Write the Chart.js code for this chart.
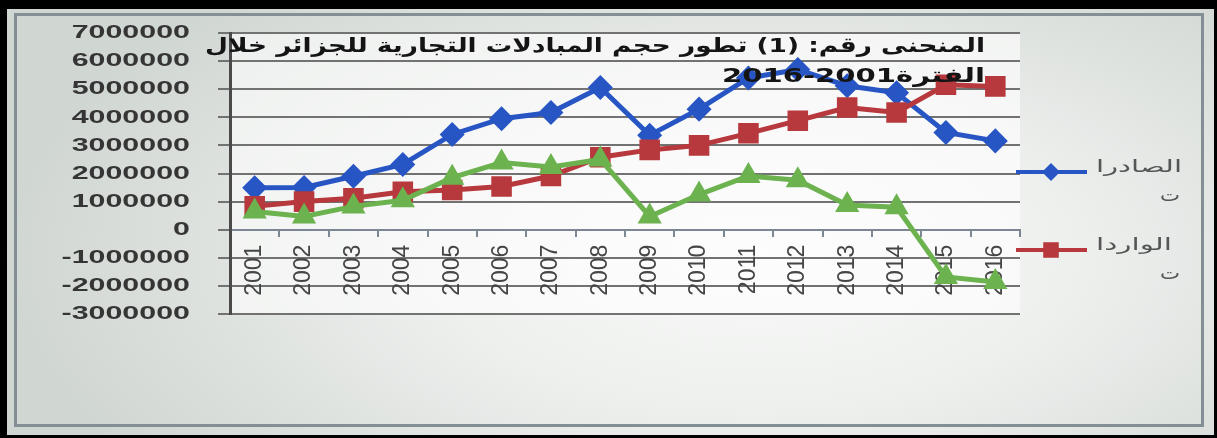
<!DOCTYPE html>
<html lang="ar">
<head>
<meta charset="utf-8">
<title>تطور حجم المبادلات التجارية للجزائر</title>
<script src="https://cdn.jsdelivr.net/npm/chart.js@4.4.1/dist/chart.umd.min.js"></script>
<style>
  html, body { margin: 0; padding: 0; background: #000; }
  body { width: 1217px; height: 438px; position: relative; overflow: hidden; }
  #panel {
    position: absolute; left: 7px; top: 9px; width: 1207px; height: 426px;
    background: radial-gradient(ellipse 62% 85% at 62% 58%, #f8f9f8 0%, #eef0ee 42%, #d0d6d2 100%);
  }
  #frame {
    position: absolute; left: 14px; top: 13px; width: 1190px; height: 414px;
    box-sizing: border-box; border: 3px solid #838e95;
  }
  canvas { position: absolute; left: 0; top: 0; }
</style>
</head>
<body>
<div id="panel"></div>
<div id="frame"></div>
<canvas id="tradeChart" width="1217" height="438"></canvas>
<script>
// values
const years = ['2001', '2002', '2003', '2004', '2005', '2006', '2007', '2008',
               '2009', '2010', '2011', '2012', '2013', '2014', '2015', '2016'];
const exportsVals = [1490000, 1500000, 1900000, 2320000, 3390000, 3950000, 4170000, 5060000,
                     3360000, 4290000, 5400000, 5700000, 5120000, 4870000, 3460000, 3160000];
const importsVals = [830000, 1000000, 1120000, 1350000, 1410000, 1540000, 1910000, 2580000,
                     2840000, 3000000, 3430000, 3880000, 4350000, 4170000, 5160000, 5100000];
const balanceVals = [650000, 470000, 830000, 1050000, 1850000, 2390000, 2230000, 2500000,
                     470000, 1250000, 1910000, 1760000, 880000, 800000, -1680000, -1860000];
const yTicks = [-3000000, -2000000, -1000000, 0, 1000000, 2000000, 3000000,
                4000000, 5000000, 6000000, 7000000];
const seriesNames = ['الصادرات', 'الواردات', 'الميزان التجاري'];
const titleLines = ['المنحنى رقم: (1) تطور حجم المبادلات التجارية للجزائر خلال', 'الفترة2001-2016'];

// the photo is stretched sideways, so text gets drawn with a horizontal scale
function fillStretched(ctx, text, x, y, width, align) {
  const w = ctx.measureText(text).width;
  fillScaled(ctx, text, x, y, width / w, align);
}

function fillScaled(ctx, text, x, y, sx, align) {
  ctx.save();
  ctx.translate(x, y);
  ctx.scale(sx, 1);
  ctx.textAlign = align;
  ctx.fillText(text, 0, 0);
  ctx.restore();
}

function drawMarker(ctx, style, r, x, y) {
  ctx.beginPath();
  if (style === 'rectRot') {
    ctx.moveTo(x, y - r); ctx.lineTo(x + r, y); ctx.lineTo(x, y + r); ctx.lineTo(x - r, y);
  } else if (style === 'rect') {
    const s = r * Math.SQRT1_2;
    ctx.rect(x - s, y - s, 2 * s, 2 * s);
  }
  ctx.closePath();
  ctx.fill();
}

const plotBackground = {
  id: 'plotBackground',
  beforeDraw(chart) {
    const { ctx, chartArea: a } = chart;
    ctx.save();
    ctx.fillStyle = 'rgba(255,255,255,0.6)';
    ctx.fillRect(a.left, a.top, a.right - a.left, a.bottom - a.top);
    ctx.restore();
  }
};

const titleAndLegend = {
  id: 'titleAndLegend',
  afterDraw(chart) {
    const ctx = chart.ctx;
    ctx.save();
    ctx.textBaseline = 'middle';

    // y tick labels, wide bold digits like the photo
    const yScale = chart.scales.y;
    ctx.fillStyle = '#353535';
    ctx.font = 'bold 19px "Liberation Sans"';
    ctx.direction = 'ltr';
    yScale.ticks.forEach(t => {
      fillScaled(ctx, String(t.value), 190, yScale.getPixelForValue(t.value), 1.6, 'right');
    });

    ctx.direction = 'rtl';
    // title, drawn over the plot like in the original
    ctx.fillStyle = '#141414';
    ctx.font = 'bold 20px "DejaVu Sans"';
    fillStretched(ctx, titleLines[0], 985, 47, 780, 'right');
    fillStretched(ctx, titleLines[1], 985, 77, 263, 'right');

    // legend at right, only the two named series
    const rows = [{ ds: 0, y: 172 }, { ds: 1, y: 250 }];
    ctx.font = '17px "DejaVu Sans"';
    rows.forEach(row => {
      const ds = chart.data.datasets[row.ds];
      ctx.strokeStyle = ds.borderColor;
      ctx.fillStyle = ds.borderColor;
      ctx.lineWidth = 4;
      ctx.beginPath();
      ctx.moveTo(1016, row.y);
      ctx.lineTo(1087, row.y);
      ctx.stroke();
      drawMarker(ctx, ds.pointStyle, ds.pointRadius, 1051, row.y);

      ctx.fillStyle = '#555';
      const label = ds.label;
      fillStretched(ctx, label.slice(0, -1), 1096, row.y - 4, row.ds === 0 ? 86 : 76, 'left');
      fillStretched(ctx, label.slice(-1), 1180, row.y + 25, 20, 'right');
    });
    ctx.restore();
  }
};

const ctx = document.getElementById('tradeChart').getContext('2d');
new Chart(ctx, {
  type: 'line',
  data: {
    labels: years,
    datasets: [{
      label: seriesNames[0],
      data: exportsVals,
      borderColor: '#2756c4',
      backgroundColor: '#2756c4',
      borderWidth: 5,
      pointStyle: 'rectRot',
      pointRadius: 9,
      order: 3
    }, {
      label: seriesNames[1],
      data: importsVals,
      borderColor: '#b7393d',
      backgroundColor: '#b7393d',
      borderWidth: 5,
      pointStyle: 'rect',
      pointRadius: 11,
      order: 2
    }, {
      label: seriesNames[2],
      data: balanceVals,
      borderColor: '#6cb24f',
      backgroundColor: '#6cb24f',
      borderWidth: 5,
      pointStyle: 'triangle',
      pointRadius: 9,
      order: 1
    }]
  },
  options: {
    responsive: false,
    animation: false,
    events: [],
    layout: { padding: { left: 14, right: 197, top: 33, bottom: 124 } },
    plugins: {
      legend: { display: false },
      title: { display: false },
      tooltip: { enabled: false }
    },
    elements: {
      line: { tension: 0 },
      point: { borderWidth: 0 }
    },
    scales: {
      x: {
        position: { y: 0 },
        offset: true,
        grid: {
          offset: true,
          drawOnChartArea: false,
          tickLength: 6,
          color: '#7d8794',
          lineWidth: 2
        },
        border: { display: true, color: '#7d8794', width: 2 },
        ticks: {
          minRotation: 90,
          maxRotation: 90,
          autoSkip: false,
          padding: 9,
          color: '#454545',
          font: { family: 'Liberation Sans', size: 23 }
        }
      },
      y: {
        min: yTicks[0],
        max: yTicks[yTicks.length - 1],
        afterBuildTicks(scale) {
          scale.ticks = yTicks.map(v => ({ value: v }));
        },
        afterFit(scale) {
          scale.width = 216;
        },
        grid: {
          color: '#727272',
          lineWidth: 2,
          tickLength: 12
        },
        border: { display: true, color: '#4a4a4a', width: 3 },
        ticks: { display: false }
      }
    }
  },
  plugins: [plotBackground, titleAndLegend]
});
</script>
</body>
</html>
